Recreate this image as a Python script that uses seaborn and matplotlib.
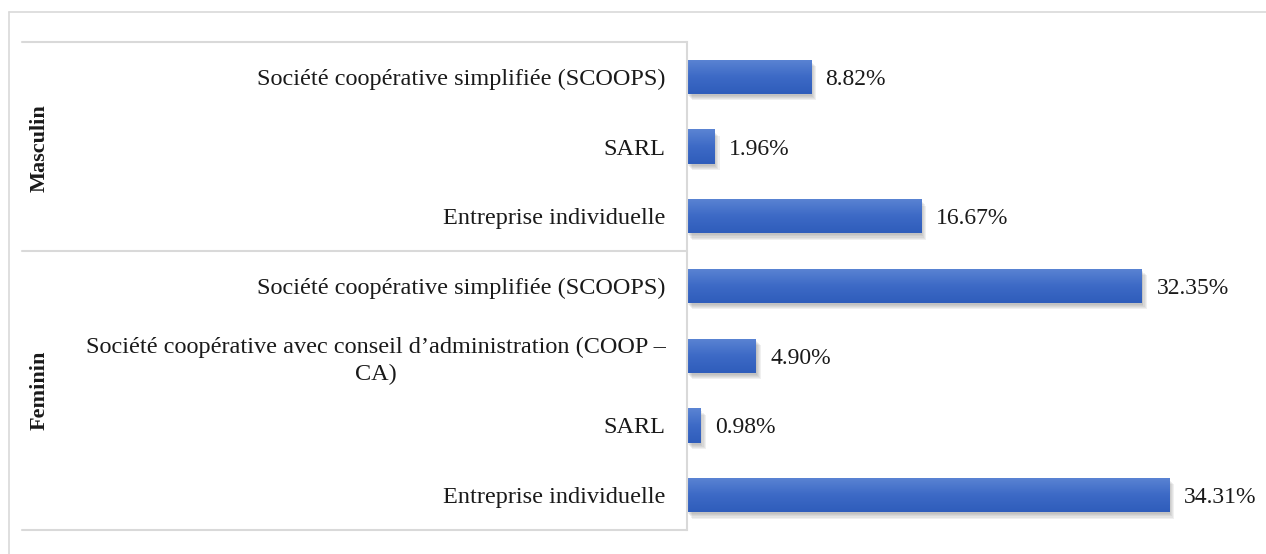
import numpy as np
import pandas as pd
import matplotlib
matplotlib.use("Agg")
import matplotlib.pyplot as plt
import matplotlib.patheffects as pe
from matplotlib.lines import Line2D
import seaborn as sns

groups = ["Masculin", "Masculin", "Masculin", "Feminin", "Feminin", "Feminin", "Feminin"]
types = [
    "Société coopérative simplifiée (SCOOPS)",
    "SARL",
    "Entreprise individuelle",
    "Société coopérative simplifiée (SCOOPS)",
    "Société coopérative avec conseil d’administration (COOP –\nCA)",
    "SARL",
    "Entreprise individuelle",
]
values = [8.82, 1.96, 16.67, 32.35, 4.90, 0.98, 34.31]

df = pd.DataFrame({"row": [str(i) for i in range(len(values))],
                   "group": groups, "type": types, "value": values})

sns.set_style("white")
plt.rcParams["font.family"] = ["Liberation Serif", "DejaVu Serif"]

W, H = 1266, 554
fig = plt.figure(figsize=(W / 100, H / 100), dpi=100)
ax = fig.add_axes([687 / W, 1 - 530 / H, (1255 - 687) / W, 488 / H])

sns.barplot(data=df, x="value", y="row", order=df["row"], orient="h",
            color="#4472C4", width=0.49, errorbar=None, linewidth=0, ax=ax)

ax.set_xlabel("")
ax.set_ylabel("")
ax.set_xticks([])
ax.set_yticks(range(len(types)))
ax.set_yticklabels(types, fontsize=17.5, color="#1a1a1a")
for lab in ax.get_yticklabels():
    lab.set_multialignment("center")
    lab.set_linespacing(1.35)
ax.tick_params(axis="y", length=0, pad=15.5)
for s in ["top", "right", "bottom"]:
    ax.spines[s].set_visible(False)
ax.spines["left"].set_color("#d9d9d9")
ax.spines["left"].set_linewidth(1.5)

# gradient fill + soft shadow on bars
grad = np.linspace(0, 1, 64).reshape(-1, 1)
cmap = matplotlib.colors.LinearSegmentedColormap.from_list("g", ["#5b84d3", "#3d6ac6", "#2f5dbb"])
soft_shadow = [pe.SimplePatchShadow(offset=(o, -o - 1), shadow_rgbFace="#606060", alpha=0.09)
               for o in (0.5, 1.2, 2.0, 2.8, 3.6)]
for p, v in zip(ax.patches, values):
    p.set_path_effects(soft_shadow + [pe.Normal()])
    x0, y0 = p.get_x(), p.get_y()
    w, h = p.get_width(), p.get_height()
    im = ax.imshow(grad, extent=[x0, x0 + w, y0 + h, y0], cmap=cmap, aspect="auto", zorder=p.get_zorder() + 0.1)
    im.set_clip_path(p)
    ax.annotate(f"{v:.2f}%", (w, y0 + h / 2), xytext=(10.5, 0), textcoords="offset points",
                ha="left", va="center_baseline", fontsize=17, color="#1a1a1a")

ax.set_xlim(0, 40.4)
ax.set_ylim(len(values) - 0.5, -0.5)

# separators and frame
line_c = "#d9d9d9"
for yp in [42, 251, 530]:
    fig.add_artist(Line2D([22 / W, 687 / W], [1 - yp / H, 1 - yp / H], color=line_c, lw=1.5))
fig.add_artist(Line2D([9 / W, 1], [1 - 12 / H, 1 - 12 / H], color=line_c, lw=1.2))
fig.add_artist(Line2D([9 / W, 9 / W], [0, 1 - 12 / H], color=line_c, lw=1.2))

fig.text(40 / W, 1 - 148 / H, "Masculin", rotation=90, ha="center", va="center",
         fontsize=16, fontweight="bold", color="#1a1a1a")
fig.text(40 / W, 1 - 390 / H, "Feminin", rotation=90, ha="center", va="center",
         fontsize=16, fontweight="bold", color="#1a1a1a")

fig.savefig("out.png", dpi=100)
